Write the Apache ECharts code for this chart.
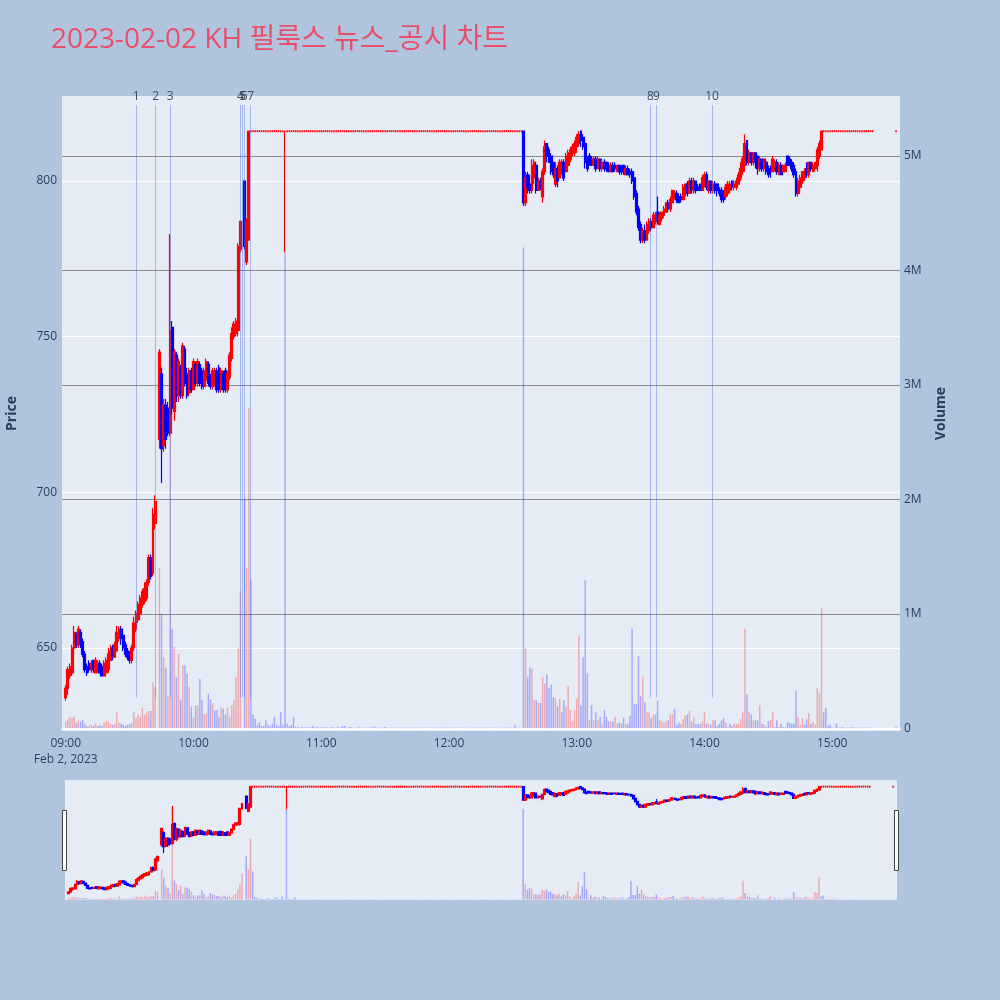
<!DOCTYPE html>
<html><head><meta charset="utf-8">
<script src="https://cdn.jsdelivr.net/npm/echarts@6/dist/echarts.min.js"></script>
<style>html,body{margin:0;padding:0;background:#b0c4de}#c{width:1000px;height:1000px}</style>
</head><body><div id="c"></div>
<script>
// ---------- data ----------
const LIMIT_PRICE = 816;
// [time, open, close, low, high, volume(M)]
const amBars = [
["09:00",634,637,633,638,0.06],["09:01",637,643,635,644,0.08],["09:02",641,644,640,645,0.10],
["09:03",642,650,641,651,0.09],["09:04",650,655,648,657,0.10],["09:05",654,651,650,655,0.05],
["09:06",651,656,650,657,0.07],["09:07",655,652,650,656,0.06],["09:08",652,648,647,653,0.07],
["09:09",648,643,642,649,0.04],["09:10",644,642,641,645,0.02],["09:11",645,643,642,646,0.02],
["09:12",643,645,642,646,0.03],["09:13",646,643,642,646,0.02],["09:14",642,646,642,647,0.04],
["09:15",643,645,642,646,0.02],["09:16",645,642,642,646,0.03],["09:17",644,641,641,645,0.02],
["09:18",641,645,641,646,0.05],["09:19",642,646,642,647,0.07],["09:20",643,648,642,650,0.06],
["09:21",646,649,646,651,0.04],["09:22",650,647,646,651,0.03],["09:23",647,651,647,652,0.04],
["09:24",649,655,649,657,0.14],["09:25",653,656,652,657,0.05],["09:26",656,653,651,657,0.04],
["09:27",654,650,649,655,0.03],["09:28",651,648,647,652,0.02],["09:29",649,647,646,650,0.03],
["09:30",648,646,645,649,0.04],["09:31",646,650,645,651,0.05],["09:32",650,658,649,660,0.14],
["09:33",656,661,655,662,0.09],["09:34",659,664,658,665,0.12],["09:35",661,666,660,667,0.10],
["09:36",664,668,663,669,0.18],["09:37",665,669,664,671,0.12],["09:38",666,671,665,672,0.14],
["09:39",671,679,670,680,0.15],["09:40",679,673,672,680,0.15],["09:41",674,693,673,695,0.40],
["09:42",690,697,688,699,0.36],
["09:44",717,745,714,746,1.40],["09:45",738,714,703,740,1.00],["09:46",715,728,713,730,0.62],
["09:47",728,717,714,730,0.53],["09:48",727,719,718,729,0.28],["09:49",719,752,718,783,4.30],
["09:50",753,727,725,755,0.87],["09:51",726,745,723,746,0.71],["09:52",744,731,729,745,0.45],
["09:53",731,742,729,743,0.65],["09:54",740,731,730,741,0.25],["09:55",731,747,730,748,0.55],
["09:56",746,735,734,747,0.55],["09:57",738,731,730,740,0.48],["09:58",732,739,731,740,0.36],
["09:59",739,733,732,740,0.19],["10:00",733,742,733,743,0.10],["10:01",741,735,734,742,0.20],
["10:02",735,742,734,743,0.20],["10:03",741,735,734,742,0.43],["10:04",739,734,733,740,0.25],
["10:05",734,739,733,740,0.12],["10:06",736,742,735,743,0.13],["10:07",741,735,734,742,0.30],
["10:08",737,734,733,738,0.25],["10:09",734,739,733,740,0.22],["10:10",735,739,734,740,0.16],
["10:11",739,733,732,740,0.16],["10:12",740,733,732,741,0.10],["10:13",733,739,732,740,0.18],
["10:14",738,733,732,739,0.17],["10:15",739,733,732,740,0.12],["10:16",733,738,732,739,0.18],
["10:17",737,744,736,745,0.10],["10:18",743,751,742,753,0.20],["10:19",750,754,749,755,0.25],
["10:20",751,755,750,756,0.45],["10:21",752,779,750,780,0.70],["10:22",778,787,777,787,1.20],
["10:24",800,779,778,800,2.00],["10:25",774,787,773,788,1.40],["10:26",781,816,781,816,2.80],
["10:43",816,816,777,816,4.15]
];
// minutes traded at the upper limit price: [time, volume(M)]
const limitTicksAm = [
["10:27",1.30],["10:28",0.12],["10:29",0.08],["10:30",0.03],["10:31",0.05],["10:32",0.02],["10:33",0.02],
["10:34",0.07],["10:35",0.03],["10:36",0.02],["10:37",0.04],["10:38",0.10],["10:39",0.03],["10:40",0.02],
["10:41",0.14],["10:42",0.03],["10:44",0.04],["10:45",0.02],["10:46",0.03],["10:47",0.10],["10:48",0.01],
["10:49",0.01],["10:50",0.005],["10:51",0.01],["10:52",0.005],["10:53",0.01],["10:54",0.005],["10:55",0.01],
["10:56",0.02],["10:57",0.005],["10:58",0.01],["10:59",0.005],["11:00",0.01],["11:01",0.005],["11:02",0.01],
["11:03",0.005],["11:04",0.005],["11:05",0.01],["11:06",0.005],["11:07",0.005],["11:08",0.01],["11:09",0.005],
["11:10",0.02],["11:11",0.02],["11:12",0.005],["11:13",0.01],["11:14",0.01],["11:15",0.005],["11:16",0.005],
["11:17",0.005],["11:18",0.01],["11:19",0.005],["11:20",0.005],["11:21",0.005],["11:22",0.005],["11:23",0.005],
["11:24",0.01],["11:25",0.015],["11:26",0.005],["11:27",0.005],["11:28",0.005],["11:29",0.005],["11:30",0.01],
["11:31",0.005],["11:32",0.005],["11:33",0.005],["11:34",0.005],["11:35",0.005],["11:36",0.005],["11:37",0.005],
["11:38",0.005],["11:39",0.005],["11:40",0.005],["11:41",0.005],["11:42",0.005],["11:43",0.005],["11:44",0.005],
["11:45",0.005],["11:46",0.005],["11:47",0.005],["11:48",0.005],["11:49",0.005],["11:50",0.005],["11:51",0.005],
["11:52",0.005],["11:53",0.005],["11:54",0.005],["11:55",0.005],["11:56",0.005],["11:57",0.005],["11:58",0.005],
["11:59",0.005],["12:00",0.005],["12:01",0.005],["12:02",0.005],["12:03",0.005],["12:04",0.005],["12:05",0.005],
["12:06",0.005],["12:07",0.005],["12:08",0.005],["12:09",0.005],["12:10",0.005],["12:11",0.005],["12:12",0.005],
["12:13",0.005],["12:14",0.005],["12:15",0.005],["12:16",0.005],["12:17",0.005],["12:18",0.005],["12:19",0.005],
["12:20",0.005],["12:21",0.005],["12:22",0.005],["12:23",0.005],["12:24",0.005],["12:25",0.005],["12:26",0.005],
["12:27",0.005],["12:28",0.005],["12:29",0.005],["12:30",0.005],["12:31",0.03],["12:32",0.005],["12:33",0.005],
["12:34",0.005]
];
const pmBars = [
["12:35",816,793,792,816,4.20],["12:36",793,801,792,803,0.70],["12:37",802,798,796,803,0.45],
["12:38",799,797,796,802,0.53],["12:39",797,805,796,807,0.52],["12:40",801,806,799,807,0.245],
["12:41",805,797,796,806,0.245],["12:42",797,800,797,801,0.22],["12:43",800,798,797,801,0.22],
["12:44",795,803,793,804,0.45],["12:45",803,811,802,813,0.39],["12:46",812,808,806,812,0.47],
["12:47",810,806,806,811,0.35],["12:48",808,803,802,809,0.38],["12:49",806,802,801,806,0.27],
["12:50",799,804,798,806,0.27],["12:51",804,800,798,805,0.19],["12:52",801,806,801,807,0.26],
["12:53",803,806,802,807,0.14],["12:54",806,801,800,807,0.245],["12:55",803,808,803,809,0.19],
["12:56",805,809,804,810,0.37],["12:57",807,810,806,811,0.16],["12:58",809,811,808,812,0.06],
["12:59",809,812,808,813,0.16],["13:00",811,814,809,815,0.26],["13:01",812,815,811,816,0.81],
["13:02",816,813,811,816,0.20],["13:03",814,811,810,815,0.62],["13:04",812,806,804,813,1.29],
["13:05",807,804,803,808,0.48],["13:06",808,806,805,809,0.07],["13:07",807,805,805,808,0.20],
["13:08",805,807,805,808,0.07],["13:09",807,804,803,808,0.14],["13:10",804,807,804,808,0.07],
["13:11",807,804,803,807,0.10],["13:12",804,806,803,807,0.04],["13:13",806,804,803,807,0.16],
["13:14",806,804,803,806,0.10],["13:15",805,803,803,806,0.06],["13:16",803,805,803,806,0.06],
["13:17",805,803,803,806,0.06],["13:18",805,804,803,806,0.10],["13:19",803,805,803,805,0.04],
["13:20",805,803,802,805,0.05],["13:21",804,803,802,805,0.04],["13:22",805,803,802,805,0.09],
["13:23",802,804,802,805,0.04],["13:24",804,802,802,805,0.04],["13:25",803,802,801,804,0.11],
["13:26",803,800,799,804,0.87],["13:27",801,795,794,803,0.21],["13:28",796,790,789,797,0.21],
["13:29",791,785,784,792,0.63],["13:30",786,781,780,787,0.28],["13:31",781,784,780,785,0.45],
["13:32",784,781,780,786,0.23],["13:33",781,786,781,787,0.14],["13:34",784,787,783,788,0.14],
["13:35",787,785,784,788,0.09],["13:36",785,789,785,790,0.12],["13:37",787,789,786,790,0.12],
["13:38",790,787,786,795,0.24],["13:39",786,789,786,790,0.07],["13:40",788,790,787,790,0.06],
["13:41",789,791,788,792,0.05],["13:42",790,793,790,793,0.06],["13:43",793,791,790,794,0.07],
["13:44",791,794,790,795,0.12],["13:45",793,797,793,797,0.12],["13:46",795,796,794,797,0.17],
["13:47",796,794,793,797,0.03],["13:48",795,793,793,796,0.05],["13:49",795,794,793,796,0.04],
["13:50",794,798,794,799,0.08],["13:51",796,799,795,799,0.11],["13:52",799,796,795,800,0.12],
["13:53",796,800,796,801,0.15],["13:54",800,797,796,801,0.06],["13:55",797,800,796,801,0.10],
["13:56",800,797,796,800,0.04],["13:57",798,797,797,799,0.04],["13:58",799,797,797,799,0.04],
["13:59",797,801,797,802,0.06],["14:00",799,802,798,803,0.14],["14:01",802,798,797,803,0.04],
["14:02",797,800,796,800,0.04],["14:03",800,797,796,800,0.03],["14:04",797,799,796,800,0.07],
["14:05",799,797,796,800,0.07],["14:06",799,797,795,799,0.02],["14:07",797,796,795,798,0.04],
["14:08",797,794,793,798,0.07],["14:09",796,794,793,797,0.09],["14:10",795,798,794,799,0.05],
["14:11",796,799,795,800,0.01],["14:12",797,799,796,800,0.04],["14:13",800,798,797,800,0.02],
["14:14",798,799,797,800,0.04],["14:15",798,800,797,801,0.04],["14:16",799,802,799,803,0.04],
["14:17",801,804,800,806,0.08],["14:18",803,807,802,808,0.14],["14:19",805,812,803,815,0.87],
["14:20",813,806,805,813,0.30],["14:21",806,809,805,810,0.14],["14:22",809,806,805,809,0.12],
["14:23",806,809,805,809,0.07],["14:24",809,806,804,809,0.07],["14:25",808,804,802,808,0.07],
["14:26",804,807,803,808,0.20],["14:27",807,804,803,807,0.04],["14:28",804,807,803,807,0.03],
["14:29",806,803,802,807,0.01],["14:30",804,802,801,805,0.06],["14:31",804,803,801,805,0.07],
["14:32",803,807,803,808,0.14],["14:33",804,806,803,807,0.01],["14:34",806,803,802,807,0.07],
["14:35",802,805,802,806,0.01],["14:36",805,802,802,806,0.04],["14:37",803,805,803,805,0.01],
["14:38",803,805,803,806,0.01],["14:39",808,805,805,808,0.05],["14:40",807,805,805,808,0.05],
["14:41",806,804,803,807,0.04],["14:42",805,802,801,806,0.04],["14:43",803,796,795,804,0.33],
["14:44",796,800,795,801,0.10],["14:45",798,801,797,802,0.03],["14:46",800,803,799,803,0.09],
["14:47",801,803,800,804,0.03],["14:48",804,802,801,806,0.08],["14:49",802,806,801,806,0.13],
["14:50",806,804,803,806,0.04],["14:51",803,805,803,806,0.06],["14:52",804,806,803,806,0.03],
["14:53",805,810,803,811,0.35],["14:54",808,812,807,813,0.31],["14:55",810,816,810,816,1.05]
];
const limitTicksPm = [
["14:56",0.14],["14:57",0.18],["14:58",0.02],["14:59",0.03],["15:00",0.005],["15:01",0.005],["15:02",0.04],
["15:03",0.005],["15:04",0.005],["15:05",0.01],["15:06",0.005],["15:07",0.005],["15:08",0.005],["15:09",0.01],
["15:10",0.005],["15:11",0.005],["15:12",0.005],["15:13",0.005],["15:14",0.005],["15:15",0.005],["15:16",0.005],
["15:17",0.005],["15:18",0.005],["15:19",0.005],["15:30",0.01]
];
const newsTimes = ["09:33:03","09:42:12","09:49:06","10:22:00","10:23:00","10:23:48","10:26:54","13:34:36","13:37:24","14:03:36"];
const newsLabels = ["1","2","3","4","5","6","7","8","9","10"];
const priceTicks = [650,700,750,800];
const volumeTicksM = [0,1,2,3,4,5];
const titleText = "2023-02-02 KH 필룩스 뉴스_공시 차트";

// ---------- build ----------
const T = s => { const p = s.split(':').map(Number); return new Date(2023,1,2,p[0],p[1],p[2]||0).getTime(); };
const rows = [];
amBars.forEach(r => rows.push([T(r[0]), r[1], r[2], r[3], r[4], r[5], false]));
pmBars.forEach(r => rows.push([T(r[0]), r[1], r[2], r[3], r[4], r[5], false]));
limitTicksAm.concat(limitTicksPm).forEach(r => rows.push([T(r[0]), LIMIT_PRICE, LIMIT_PRICE, LIMIT_PRICE, LIMIT_PRICE, r[1], true]));
rows.sort((a,b) => a[0]-b[0]);

const RED = '#ff0000', BLUE = '#0000ff';
const dojiStyle = {color:RED,color0:RED,borderColor:RED,borderColor0:RED,borderColorDoji:RED};
const candleData = rows.filter(r => !r[6]).map(r => r[1] === r[2] ? {value:[r[0],r[1],r[2],r[3],r[4]], itemStyle:dojiStyle} : [r[0],r[1],r[2],r[3],r[4]]);
const limitData = rows.filter(r => r[6]).map(r => [r[0], r[2]]);
const volData = rows.map((r,i) => {
  const prev = i > 0 ? rows[i-1][2] : r[1];
  const up = r[2] > prev;
  return {value:[r[0], r[5]*1e6], itemStyle:{color: up ? 'rgba(255,0,0,0.28)' : 'rgba(0,0,255,0.28)'}};
});

const P_MIN = 623.3, P_MAX = 827.3, V_MIN = -24000, V_MAX = 5524000;
const X_MIN = T("08:58:36"), X_MAX = T("15:31:30");
const NEWS_TOP = 824.4, NEWS_BOTTOM = 634.1;

const newsLines = newsTimes.map((t,i) => [
  {coord:[T(t), NEWS_TOP], name:newsLabels[i]},
  {coord:[T(t), NEWS_BOTTOM]}
]);

const FONT = "'Open Sans', 'Noto Sans CJK KR', sans-serif";
const INK = '#2a3f5f';
const candleStyle = {color:RED, color0:BLUE, borderColor:RED, borderColor0:BLUE, borderColorDoji:RED, borderWidth:1.2};

const chart = echarts.init(document.getElementById('c'), null, {renderer:'canvas'});
chart.setOption({
  backgroundColor:'#b0c4de',
  animation:false,
  textStyle:{fontFamily:FONT},
  title:{text:titleText, left:46, top:21, textStyle:{color:'#e8506a', fontSize:28, fontWeight:'normal', fontFamily:FONT}},
  grid:[
    {left:62, top:96, width:838, height:635, show:true, backgroundColor:'#e5ecf6', borderWidth:0, outerBoundsMode:'none', containLabel:false},
    {left:65, top:780, width:832, height:120, show:true, backgroundColor:'#e5ecf6', borderWidth:0, outerBoundsMode:'none', containLabel:false}
  ],
  xAxis:[
    {type:'time', gridIndex:0, min:X_MIN, max:X_MAX, minInterval:3600000, maxInterval:3600000,
     axisLine:{show:true, onZero:true, onZeroAxisIndex:1, lineStyle:{color:'#ffffff', width:2}},
     axisTick:{show:false}, splitLine:{show:false},
     axisLabel:{show:true, color:INK, fontSize:12, fontFamily:FONT, margin:5, lineHeight:16, showMinLabel:false, showMaxLabel:false, hideOverlap:false,
       formatter: v => { const d = new Date(v); if (d.getMinutes() !== 0 || d.getSeconds() !== 0) return '';
         const hh = String(d.getHours()).padStart(2,'0'); return hh === '09' ? '09:00\nFeb 2, 2023' : hh + ':00'; }}},
    {type:'time', gridIndex:1, min:X_MIN, max:X_MAX, show:false}
  ],
  yAxis:[
    {type:'value', gridIndex:0, min:P_MIN, max:P_MAX, splitNumber:4, position:'left',
     name:'Price', nameLocation:'middle', nameGap:43, nameRotate:90,
     nameTextStyle:{color:INK, fontSize:14, fontWeight:'bold', fontFamily:FONT},
     axisLine:{show:false}, axisTick:{show:false},
     axisLabel:{color:INK, fontSize:12, margin:5, fontFamily:FONT, showMinLabel:false, showMaxLabel:false,
       formatter: v => priceTicks.indexOf(v) >= 0 ? String(v) : ''},
     splitLine:{show:true, showMinLine:false, showMaxLine:false, lineStyle:{color:'#ffffff', width:1}}},
    {type:'value', gridIndex:0, min:V_MIN, max:V_MAX, splitNumber:5, position:'right',
     name:'Volume', nameLocation:'middle', nameGap:34, nameRotate:90,
     nameTextStyle:{color:INK, fontSize:14, fontWeight:'bold', fontFamily:FONT},
     axisLine:{show:false}, axisTick:{show:false},
     axisLabel:{color:INK, fontSize:12, margin:4, fontFamily:FONT, showMinLabel:false, showMaxLabel:false,
       formatter: v => { const m = v/1e6; return volumeTicksM.indexOf(m) >= 0 ? (m === 0 ? '0' : m + 'M') : ''; }},
     splitLine:{show:true, showMinLine:false, showMaxLine:false, lineStyle:{color:'#8c8c8c', width:1}}},
    {type:'value', gridIndex:1, min:P_MIN, max:P_MAX, show:false, splitLine:{show:false}},
    {type:'value', gridIndex:1, min:V_MIN, max:V_MAX, show:false, splitLine:{show:false}}
  ],
  series:[
    {type:'bar', name:'Volume', xAxisIndex:0, yAxisIndex:1, data:volData, barWidth:1.5, z:1, silent:true},
    {type:'scatter', xAxisIndex:0, yAxisIndex:0, data:limitData, symbol:'rect', symbolSize:[1.5,2], z:2, silent:true,
     itemStyle:{color:RED, opacity:1}},
    {type:'candlestick', name:'Price', xAxisIndex:0, yAxisIndex:0, data:candleData, barWidth:2.4, z:3,
     encode:{x:0, y:[1,2,3,4]}, itemStyle:candleStyle,
     markLine:{silent:true, symbol:['none','none'], animation:false,
       lineStyle:{color:'rgba(65,105,225,0.4)', width:1, type:'solid'},
       label:{show:true, position:'start', distance:2, formatter:p => p.name, color:'#3f4d5e', fontSize:12, fontFamily:FONT},
       emphasis:{disabled:true}, data:newsLines}},
    {type:'bar', xAxisIndex:1, yAxisIndex:3, data:volData, barWidth:1.5, z:1, silent:true},
    {type:'scatter', xAxisIndex:1, yAxisIndex:2, data:limitData, symbol:'rect', symbolSize:[1.5,2], z:2, silent:true,
     itemStyle:{color:RED, opacity:1}},
    {type:'candlestick', xAxisIndex:1, yAxisIndex:2, data:candleData, barWidth:2.4, z:3, silent:true,
     encode:{x:0, y:[1,2,3,4]}, itemStyle:candleStyle}
  ],
  graphic:[
    {type:'rect', shape:{x:62.5, y:810.5, width:4, height:60}, style:{fill:'#ffffff', stroke:'#444', lineWidth:1}, z:10},
    {type:'rect', shape:{x:894.5, y:810.5, width:4, height:60}, style:{fill:'#ffffff', stroke:'#444', lineWidth:1}, z:10}
  ]
});
</script></body></html>
